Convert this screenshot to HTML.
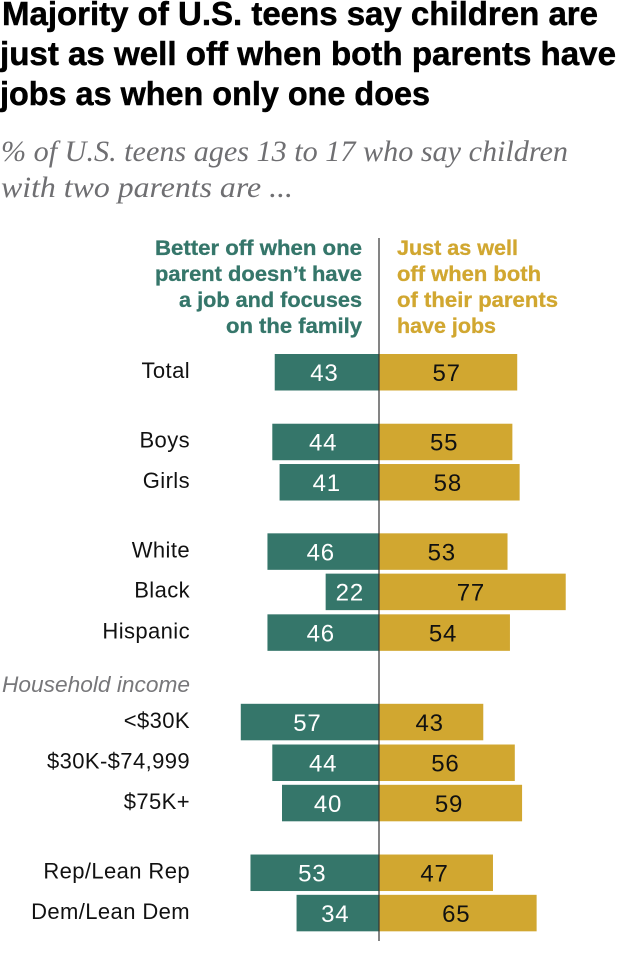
<!DOCTYPE html>
<html lang="en">
<head>
<meta charset="utf-8">
<title>Majority of U.S. teens say children are just as well off</title>
<style>
html,body{margin:0;padding:0;background:#fff;width:620px;height:970px;overflow:hidden}
svg{display:block}
text{font-family:"Liberation Sans",sans-serif}
.title{font-size:33px;font-weight:bold;fill:#000;stroke:#000;stroke-width:.5px}
.sub{font-family:"Liberation Serif",serif;font-style:italic;font-size:30px;fill:#6f6f72}
.head{font-size:21px;font-weight:bold;stroke-width:.3px}
.cat{font-size:22px;letter-spacing:.4px;fill:#111;text-anchor:end}
.val{font-size:24px;letter-spacing:.8px;text-anchor:middle}
</style>
</head>
<body>
<svg id="chart" xmlns="http://www.w3.org/2000/svg" width="620" height="970" viewBox="0 0 620 970">
  <text class="title" x="2" y="25" textLength="596" lengthAdjust="spacingAndGlyphs">Majority of U.S. teens say children are</text>
  <text class="title" x="0" y="65" textLength="616" lengthAdjust="spacingAndGlyphs">just as well off when both parents have</text>
  <text class="title" x="0" y="105" textLength="430" lengthAdjust="spacingAndGlyphs">jobs as when only one does</text>
  <text class="sub" x="1" y="161" textLength="567" lengthAdjust="spacingAndGlyphs">% of U.S. teens ages 13 to 17 who say children</text>
  <text class="sub" x="1" y="197" textLength="292" lengthAdjust="spacingAndGlyphs">with two parents are ...</text>

  <g fill="#35766a" stroke="#35766a" text-anchor="end">
    <text class="head" x="362" y="255" textLength="207" lengthAdjust="spacingAndGlyphs">Better off when one</text>
    <text class="head" x="362" y="281" textLength="207" lengthAdjust="spacingAndGlyphs">parent doesn’t have</text>
    <text class="head" x="362" y="307" textLength="183" lengthAdjust="spacingAndGlyphs">a job and focuses</text>
    <text class="head" x="362" y="333" textLength="136" lengthAdjust="spacingAndGlyphs">on the family</text>
  </g>
  <g fill="#d1a730" stroke="#d1a730">
    <text class="head" x="397" y="255" textLength="121" lengthAdjust="spacingAndGlyphs">Just as well</text>
    <text class="head" x="397" y="281" textLength="144" lengthAdjust="spacingAndGlyphs">off when both</text>
    <text class="head" x="397" y="307" textLength="161" lengthAdjust="spacingAndGlyphs">of their parents</text>
    <text class="head" x="397" y="333" textLength="99" lengthAdjust="spacingAndGlyphs">have jobs</text>
  </g>

  <text x="190" y="692" text-anchor="end" font-size="22" font-style="italic" fill="#77777a" textLength="188" lengthAdjust="spacingAndGlyphs">Household income</text>

  <g id="bars"></g>
  <g id="values"></g>
  <g id="labels"></g>

  <line x1="379" x2="379" y1="238" y2="941" stroke="#333333" stroke-width="1.2"/>
</svg>
<script>
var categories = ["Total","Boys","Girls","White","Black","Hispanic","<$30K","$30K-$74,999","$75K+","Rep/Lean Rep","Dem/Lean Dem"];
var betterOffOne = [43,44,41,46,22,46,57,44,40,53,34];
var justAsWell = [57,55,58,53,77,54,43,56,59,47,65];
var rowSlots = [0,1.73,2.73,4.45,5.45,6.46,8.68,9.69,10.69,12.42,13.42];

var NS = 'http://www.w3.org/2000/svg';
var axisX = 379;
var pxPerPoint = 2.425;
var firstRowTop = 354;
var rowStep = 40.3;
var barHeight = 36.5;

function xLen(v){ return v * pxPerPoint; }
function yTop(slot){ return firstRowTop + slot * rowStep; }

function make(tag, attrs, parent, txt){
  var el = document.createElementNS(NS, tag);
  for (var k in attrs) el.setAttribute(k, attrs[k]);
  if (txt !== undefined) el.textContent = txt;
  parent.appendChild(el);
  return el;
}

var barsG = document.getElementById('bars');
var valuesG = document.getElementById('values');
var labelsG = document.getElementById('labels');

categories.forEach(function(cat, i){
  var top = yTop(rowSlots[i]);
  var key = cat.toLowerCase().replace(/[^a-z0-9]+/g, '-').replace(/^-|-$/g, '');
  var lw = xLen(betterOffOne[i]);
  var rw = xLen(justAsWell[i]);

  var label = make('text', {'class':'cat', x:190, y:top + 24}, labelsG, cat);
  
  

  var left = make('rect', {x:axisX - lw, y:top, width:lw, height:barHeight, fill:'#35766a'}, barsG);
  
  

  var right = make('rect', {x:axisX, y:top, width:rw, height:barHeight, fill:'#d1a730'}, barsG);
  
  

  var lv = make('text', {'class':'val', x:axisX - lw / 2 - 2.5, y:top + 27, fill:'#ffffff'}, valuesG, betterOffOne[i]);
  
  

  var rv = make('text', {'class':'val', x:axisX + rw / 2 - 1.5, y:top + 27, fill:'#111111'}, valuesG, justAsWell[i]);
  
  
});
</script>
</body>
</html>
